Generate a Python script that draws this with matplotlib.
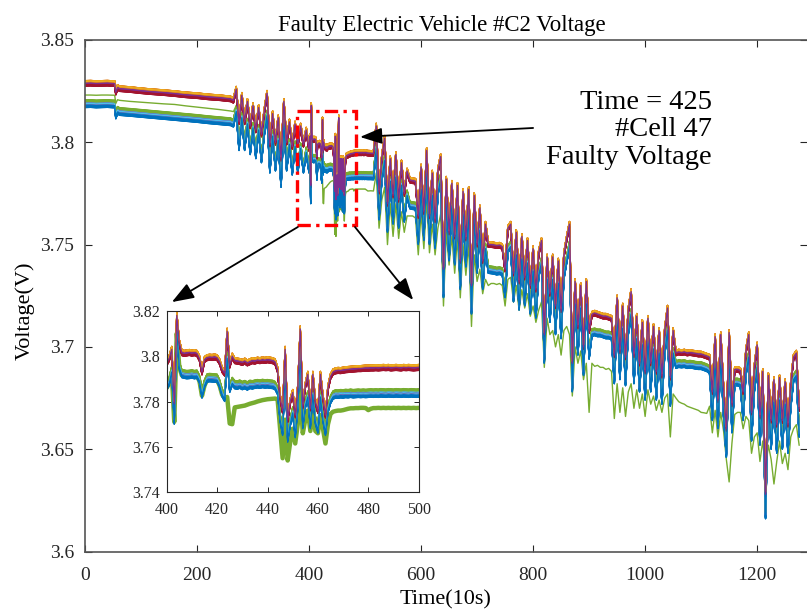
import matplotlib
matplotlib.use("Agg")
import matplotlib.pyplot as plt
from matplotlib.patches import Rectangle

plt.rcParams['font.family'] = ['Liberation Serif', 'DejaVu Serif']

# ---- data (time in 10 s steps, voltage in V) ----
# flat start, two modules (upper / lower group) and cell 47 between them
t_flat = [0, 10, 20, 30, 40, 50, 53, 55, 58, 62, 80, 100, 120, 140, 160, 180, 200, 220, 240, 260]
u_flat = [3.8288, 3.8289, 3.8287, 3.8288, 3.8289, 3.8287, 3.8287, 3.8245, 3.8268, 3.8262,
          3.8258, 3.8252, 3.8247, 3.8243, 3.8238, 3.8232, 3.8228, 3.8222, 3.8218, 3.8212]
l_flat = [3.8190, 3.8191, 3.8189, 3.8190, 3.8191, 3.8189, 3.8189, 3.8135, 3.8158, 3.8152,
          3.8148, 3.8143, 3.8138, 3.8133, 3.8128, 3.8123, 3.8118, 3.8112, 3.8107, 3.8102]
f_flat = [3.8231, 3.8231, 3.8230, 3.8231, 3.8231, 3.8230, 3.8230, 3.8190, 3.8208, 3.8205,
          3.8200, 3.8196, 3.8192, 3.8188, 3.8185, 3.8178, 3.8172, 3.8166, 3.8160, 3.8153]

t_early = list(range(265, 400, 5))
u_early = [3.8205, 3.8260, 3.8100, 3.8230, 3.8100, 3.8200, 3.8080, 3.8180, 3.8060, 3.8170,
           3.8040, 3.8150, 3.8240, 3.7990, 3.8140, 3.8000, 3.8120, 3.7920, 3.8200, 3.8000,
           3.8100, 3.7980, 3.8090, 3.7990, 3.8080, 3.7990, 3.8060]
l_early = [3.8095, 3.8160, 3.7980, 3.8130, 3.7980, 3.8100, 3.7960, 3.8080, 3.7940, 3.8070,
           3.7920, 3.8050, 3.8140, 3.7870, 3.8040, 3.7880, 3.8020, 3.7800, 3.8100, 3.7880,
           3.8000, 3.7860, 3.7990, 3.7870, 3.7980, 3.7870, 3.7960]
f_early = [3.8150, 3.8180, 3.8000, 3.8120, 3.7970, 3.8090, 3.7950, 3.8070, 3.7930, 3.8060,
           3.7910, 3.8040, 3.8130, 3.7860, 3.8030, 3.7870, 3.8010, 3.7790, 3.8090, 3.7870,
           3.7990, 3.7850, 3.7980, 3.7860, 3.7970, 3.7860, 3.7950]

# zoomed window 400-500, one sample per step
t_zoom = list(range(400, 501))
u_zoom = [3.7970, 3.7990, 3.8030, 3.7790, 3.8180, 3.8060, 3.8015, 3.8012, 3.8014, 3.8016,
          3.8013, 3.8015, 3.8012, 3.7990, 3.7930, 3.7985, 3.7993, 3.7995, 3.7994, 3.7996,
          3.7993, 3.7975, 3.7940, 3.7925, 3.8110, 3.7960, 3.8000, 3.7980, 3.7978, 3.7976,
          3.7972, 3.7978, 3.7970, 3.7975, 3.7980, 3.7978, 3.7982, 3.7980, 3.7983, 3.7981,
          3.7984, 3.7982, 3.7980, 3.7975, 3.7940, 3.7820, 3.7760, 3.8030, 3.7720, 3.7800,
          3.7840, 3.7740, 3.7860, 3.8120, 3.7780, 3.7870, 3.7920, 3.7770, 3.7920, 3.7800,
          3.7760, 3.7920, 3.7820, 3.7740, 3.7860, 3.7910, 3.7930, 3.7935, 3.7937, 3.7936,
          3.7938, 3.7940, 3.7941, 3.7942, 3.7943, 3.7944, 3.7945, 3.7945, 3.7946, 3.7947,
          3.7947, 3.7948, 3.7948, 3.7949, 3.7948, 3.7949, 3.7950, 3.7949, 3.7950, 3.7948,
          3.7949, 3.7950, 3.7949, 3.7948, 3.7950, 3.7949, 3.7950, 3.7949, 3.7948, 3.7949,
          3.7950]
l_zoom = [3.7870, 3.7890, 3.7940, 3.7720, 3.8120, 3.7960, 3.7925, 3.7922, 3.7920, 3.7921,
          3.7923, 3.7920, 3.7922, 3.7900, 3.7835, 3.7880, 3.7905, 3.7907, 3.7906, 3.7905,
          3.7904, 3.7880, 3.7840, 3.7820, 3.8000, 3.7860, 3.7890, 3.7876, 3.7874, 3.7878,
          3.7872, 3.7876, 3.7870, 3.7877, 3.7875, 3.7878, 3.7880, 3.7878, 3.7881, 3.7879,
          3.7880, 3.7878, 3.7877, 3.7872, 3.7850, 3.7730, 3.7670, 3.7950, 3.7640, 3.7710,
          3.7760, 3.7660, 3.7780, 3.8040, 3.7700, 3.7790, 3.7830, 3.7700, 3.7840, 3.7720,
          3.7680, 3.7830, 3.7730, 3.7670, 3.7770, 3.7810, 3.7830, 3.7835, 3.7834, 3.7836,
          3.7835, 3.7837, 3.7836, 3.7838, 3.7836, 3.7837, 3.7838, 3.7837, 3.7838, 3.7837,
          3.7838, 3.7839, 3.7838, 3.7839, 3.7838, 3.7840, 3.7839, 3.7838, 3.7840, 3.7839,
          3.7838, 3.7840, 3.7839, 3.7838, 3.7840, 3.7839, 3.7838, 3.7840, 3.7839, 3.7838,
          3.7839]
f_zoom = [3.7860, 3.7880, 3.7930, 3.7710, 3.8100, 3.7950, 3.7915, 3.7912, 3.7910, 3.7911,
          3.7913, 3.7910, 3.7912, 3.7890, 3.7825, 3.7870, 3.7895, 3.7897, 3.7896, 3.7895,
          3.7894, 3.7870, 3.7830, 3.7815, 3.7820, 3.7703, 3.7700, 3.7774, 3.7776, 3.7778,
          3.7780, 3.7782, 3.7786, 3.7790, 3.7793, 3.7796, 3.7800, 3.7803, 3.7806, 3.7808,
          3.7810, 3.7811, 3.7812, 3.7813, 3.7810, 3.7680, 3.7550, 3.7720, 3.7540, 3.7620,
          3.7680, 3.7615, 3.7700, 3.7850, 3.7660, 3.7720, 3.7760, 3.7670, 3.7760, 3.7670,
          3.7660, 3.7740, 3.7680, 3.7615, 3.7700, 3.7745, 3.7755, 3.7758, 3.7760, 3.7760,
          3.7762, 3.7765, 3.7768, 3.7770, 3.7770, 3.7771, 3.7771, 3.7772, 3.7772, 3.7771,
          3.7762, 3.7768, 3.7771, 3.7771, 3.7772, 3.7771, 3.7772, 3.7771, 3.7772, 3.7771,
          3.7772, 3.7771, 3.7772, 3.7771, 3.7772, 3.7771, 3.7772, 3.7771, 3.7772, 3.7771,
          3.7772]

t_late = list(range(505, 1280, 5))
u_late = [3.7947, 3.7946, 3.7945, 3.8080, 3.7760, 3.7930, 3.8020, 3.7700, 3.7920, 3.7740,
          3.7940, 3.7720, 3.7900, 3.7750, 3.7860, 3.7815, 3.7812, 3.7810, 3.7640, 3.7880,
          3.7660, 3.7960, 3.7640, 3.7850, 3.7620, 3.7860, 3.7930, 3.7380, 3.7820, 3.7560,
          3.7800, 3.7540, 3.7790, 3.7420, 3.7760, 3.7530, 3.7770, 3.7300, 3.7740, 3.7500,
          3.7680, 3.7420, 3.7600, 3.7500, 3.7500, 3.7498, 3.7495, 3.7497, 3.7490, 3.7380,
          3.7580, 3.7600, 3.7360, 3.7560, 3.7320, 3.7540, 3.7340, 3.7520, 3.7300, 3.7480,
          3.7280, 3.7460, 3.7520, 3.7060, 3.7440, 3.7260, 3.7440, 3.7200, 3.7420, 3.7180,
          3.7450, 3.7530, 3.7600, 3.6920, 3.7320, 3.7100, 3.7300, 3.7000, 3.7320, 3.7080,
          3.7160, 3.7165, 3.7160, 3.7155, 3.7150, 3.7150, 3.7145, 3.7140, 3.6960, 3.7240,
          3.6980, 3.7200, 3.6950, 3.7180, 3.7270, 3.6960, 3.7150, 3.6920, 3.7120, 3.6880,
          3.7140, 3.6920, 3.7100, 3.6880, 3.7080, 3.6860, 3.7080, 3.7190, 3.6850, 3.7080,
          3.6970, 3.6975, 3.6972, 3.6975, 3.6970, 3.6972, 3.6970, 3.6968, 3.6965, 3.6965,
          3.6960, 3.6955, 3.6950, 3.6780, 3.7050, 3.6740, 3.7060, 3.6800, 3.6600, 3.7070,
          3.6720, 3.6890, 3.6890, 3.6885, 3.6780, 3.6980, 3.7060, 3.6680, 3.6900, 3.7010,
          3.6660, 3.6880, 3.6280, 3.6860, 3.6640, 3.6840, 3.6620, 3.6850, 3.6640, 3.6830,
          3.6620, 3.6820, 3.6950, 3.6970, 3.6700]
l_late = [3.7838, 3.7838, 3.7837, 3.7980, 3.7640, 3.7830, 3.7920, 3.7580, 3.7820, 3.7620,
          3.7840, 3.7600, 3.7800, 3.7630, 3.7750, 3.7695, 3.7692, 3.7690, 3.7520, 3.7780,
          3.7540, 3.7860, 3.7520, 3.7750, 3.7500, 3.7760, 3.7830, 3.7260, 3.7720, 3.7440,
          3.7700, 3.7420, 3.7690, 3.7300, 3.7660, 3.7410, 3.7670, 3.7180, 3.7640, 3.7380,
          3.7580, 3.7300, 3.7490, 3.7380, 3.7378, 3.7376, 3.7372, 3.7374, 3.7370, 3.7260,
          3.7480, 3.7500, 3.7240, 3.7460, 3.7200, 3.7440, 3.7220, 3.7420, 3.7180, 3.7380,
          3.7160, 3.7360, 3.7420, 3.6940, 3.7340, 3.7140, 3.7340, 3.7080, 3.7320, 3.7060,
          3.7350, 3.7430, 3.7500, 3.6800, 3.7220, 3.6980, 3.7200, 3.6880, 3.7220, 3.6960,
          3.7072, 3.7075, 3.7070, 3.7070, 3.7065, 3.7060, 3.7060, 3.7055, 3.6840, 3.7140,
          3.6860, 3.7100, 3.6830, 3.7080, 3.7170, 3.6840, 3.7050, 3.6800, 3.7020, 3.6760,
          3.7040, 3.6800, 3.7000, 3.6760, 3.6980, 3.6740, 3.6980, 3.7090, 3.6730, 3.6980,
          3.6915, 3.6920, 3.6918, 3.6920, 3.6915, 3.6917, 3.6915, 3.6912, 3.6910, 3.6910,
          3.6905, 3.6900, 3.6890, 3.6660, 3.6950, 3.6620, 3.6960, 3.6680, 3.6480, 3.6970,
          3.6600, 3.6830, 3.6830, 3.6825, 3.6660, 3.6880, 3.6960, 3.6560, 3.6800, 3.6910,
          3.6540, 3.6780, 3.6180, 3.6760, 3.6520, 3.6740, 3.6500, 3.6750, 3.6520, 3.6730,
          3.6500, 3.6720, 3.6850, 3.6870, 3.6580]
f_late = [3.7762, 3.7763, 3.7762, 3.7850, 3.7580, 3.7720, 3.7780, 3.7500, 3.7700, 3.7540,
          3.7700, 3.7530, 3.7660, 3.7560, 3.7640, 3.7640, 3.7640, 3.7630, 3.7450, 3.7650,
          3.7480, 3.7720, 3.7460, 3.7600, 3.7450, 3.7580, 3.7650, 3.7200, 3.7560, 3.7400,
          3.7540, 3.7360, 3.7530, 3.7240, 3.7500, 3.7350, 3.7500, 3.7100, 3.7450, 3.7320,
          3.7380, 3.7260, 3.7330, 3.7300, 3.7310, 3.7310, 3.7305, 3.7310, 3.7300, 3.7200,
          3.7330, 3.7340, 3.7220, 3.7300, 3.7180, 3.7280, 3.7190, 3.7260, 3.7150, 3.7200,
          3.7120, 3.7180, 3.7220, 3.6900, 3.7140, 3.7060, 3.7080, 3.7000, 3.7060, 3.6960,
          3.7080, 3.7100, 3.7060, 3.6760, 3.7000, 3.6920, 3.6980, 3.6840, 3.6920, 3.6680,
          3.6920, 3.6905, 3.6910, 3.6900, 3.6900, 3.6890, 3.6895, 3.6880, 3.6650, 3.6820,
          3.6680, 3.6800, 3.6660, 3.6780, 3.6820, 3.6700, 3.6790, 3.6700, 3.6770, 3.6660,
          3.6790, 3.6720, 3.6760, 3.6690, 3.6740, 3.6680, 3.6750, 3.6770, 3.6560, 3.6770,
          3.6750, 3.6732, 3.6725, 3.6720, 3.6710, 3.6705, 3.6700, 3.6695, 3.6690, 3.6680,
          3.6678, 3.6675, 3.6710, 3.6580, 3.6690, 3.6560, 3.6680, 3.6590, 3.6450, 3.6340,
          3.6530, 3.6670, 3.6680, 3.6680, 3.6600, 3.6660, 3.6640, 3.6480, 3.6560, 3.6580,
          3.6440, 3.6540, 3.6400, 3.6520, 3.6450, 3.6330, 3.6440, 3.6540, 3.6430, 3.6480,
          3.6400, 3.6560, 3.6600, 3.6620, 3.6520]

# 95 cells: which module each one sits in (U/L) and its offset in mV
cell_group = ("LUUULLU" "LUULLLU" "LUUULLU" "LUULLLU" "LUUULLU" "LUULLLU" "LUUULLU"
              "LUULLLU" "LUUULLU" "LUULLLU" "LUUULLU" "LUULLLU" "LUULLLU" "LUUU")
cell_offset_mv = [-1.8, 1.2, 0.9, 0.2, 1.5, -0.4, -1.1,
                  -1.5, 1.0, 1.3, -0.6, 1.2, 0.3, -0.8,
                  -2.0, 0.7, 1.1, 0.5, 1.7, -0.7, -1.3,
                  -1.2, 1.3, 0.8, -0.9, 0.9, 0.1, -0.5,
                  -1.7, 0.9, 1.2, -0.2, 1.4, -0.2, -1.0,
                  -1.4, 1.1, 0.6, 0.4, 1.1, 0.5, -1.2,
                  -1.9, 0.8, 1.0, 0.0, 0.0, -0.5, -0.7,
                  -1.3, 1.2, 0.7, -0.4, 1.6, 0.2, -0.9,
                  -1.6, 1.0, 1.2, 0.3, 1.0, -0.3, -1.3,
                  -1.1, 0.6, 0.9, -0.7, 1.3, 0.4, -0.6,
                  -2.0, 1.3, 1.1, 0.1, 1.5, -0.6, -1.1,
                  -1.5, 0.8, 0.7, -0.3, 0.8, 0.0, -0.8,
                  -1.8, 1.1, 1.3, 0.0, 1.2, -0.1, -1.2,
                  -1.0, 0.9, 1.0, 0.0]
fault_cell = 47

matlab_colors = ['#0072BD', '#D95319', '#EDB120', '#7E2F8E', '#77AC30', '#4DBEEE', '#A2142F']

t_all = t_flat + t_early + t_zoom + t_late
upper = u_flat + u_early + u_zoom + u_late
lower = l_flat + l_early + l_zoom + l_late
fault = f_flat + f_early + f_zoom + f_late

cells = []
for k in range(1, len(cell_group) + 1):
    if k == fault_cell:
        cells.append(fault)
    else:
        base = upper if cell_group[k - 1] == 'U' else lower
        off = cell_offset_mv[k - 1] / 1000.0
        cells.append([v + off for v in base])

# ---- figure ----
W, H = 807, 612
fig = plt.figure(figsize=(W / 100, H / 100), dpi=100)
ax = fig.add_axes([85 / W, 1 - 551.5 / H, (W - 85) / W, (551.5 - 40) / H])

for k, y in enumerate(cells, start=1):
    ax.plot(t_all, y, color=matlab_colors[(k - 1) % 7], lw=1.0)

ax.set_xlim(0, 1289)
ax.set_ylim(3.6, 3.85)
ax.set_xticks([0, 200, 400, 600, 800, 1000, 1200])
ax.set_yticks([3.6, 3.65, 3.7, 3.75, 3.8, 3.85])
ax.set_yticklabels(['3.6', '3.65', '3.7', '3.75', '3.8', '3.85'])
ax.tick_params(direction='in', top=True, right=True, length=5, width=0.8,
               labelsize=14, colors='#262626')
ax.tick_params(axis='y', pad=8)
ax.tick_params(axis='x', pad=11)
for s in ax.spines.values():
    s.set_color('#555555')
    s.set_linewidth(1.2)
ax.spines['right'].set_visible(False)

fig.text(441.5 / W, 1 - 30.5 / H, 'Faulty Electric Vehicle #C2 Voltage',
         ha='center', va='baseline', fontsize=16.5)
ax.set_xlabel('Time(10s)', fontsize=16, labelpad=5)
fig.text(25 / W, 1 - 311 / H, 'Voltage(V)', rotation=90, ha='center', va='center',
         fontsize=16)

fig.text(712 / W, 1 - 130 / H, 'Time = 425\n#Cell 47\nFaulty Voltage',
         ha='right', va='center', fontsize=20.5, linespacing=1.15)

# dash-dot box around the zoomed window
ax.add_patch(Rectangle((378, 3.7596), 105, 0.0557, fill=False, ec='red', lw=2.4,
                       ls=(0, (4, 1.6, 1, 1.6)), zorder=5))

arrow = dict(arrowstyle='-|>,head_length=0.9,head_width=0.33', color='k', lw=1.3,
             shrinkA=0, shrinkB=0, mutation_scale=15)
ax.annotate('', xy=(491, 3.8026), xytext=(800, 3.807), arrowprops=arrow, zorder=6)
ax.annotate('', xy=(155, 3.7219), xytext=(380, 3.7586), arrowprops=arrow, zorder=6)
ax.annotate('', xy=(586, 3.7229), xytext=(482, 3.7586), arrowprops=arrow, zorder=6)

# ---- inset ----
axi = fig.add_axes([166.7 / W, 1 - 492.3 / H, 252 / W, 181.6 / H])
for k, y in enumerate(cells, start=1):
    lw = 3.2 if k == fault_cell else 0.9
    axi.plot(t_all, y, color=matlab_colors[(k - 1) % 7], lw=lw)
axi.set_xlim(400, 500)
axi.set_ylim(3.74, 3.82)
axi.set_xticks([400, 420, 440, 460, 480, 500])
axi.set_yticks([3.74, 3.76, 3.78, 3.8, 3.82])
axi.set_yticklabels(['3.74', '3.76', '3.78', '3.8', '3.82'])
axi.tick_params(direction='in', top=True, right=True, length=3.5, width=0.7,
                labelsize=11.5, colors='#262626', pad=5)
axi.tick_params(axis='x', pad=7)
for s in axi.spines.values():
    s.set_color('#262626')
    s.set_linewidth(0.8)

fig.savefig('out.png', dpi=100)
